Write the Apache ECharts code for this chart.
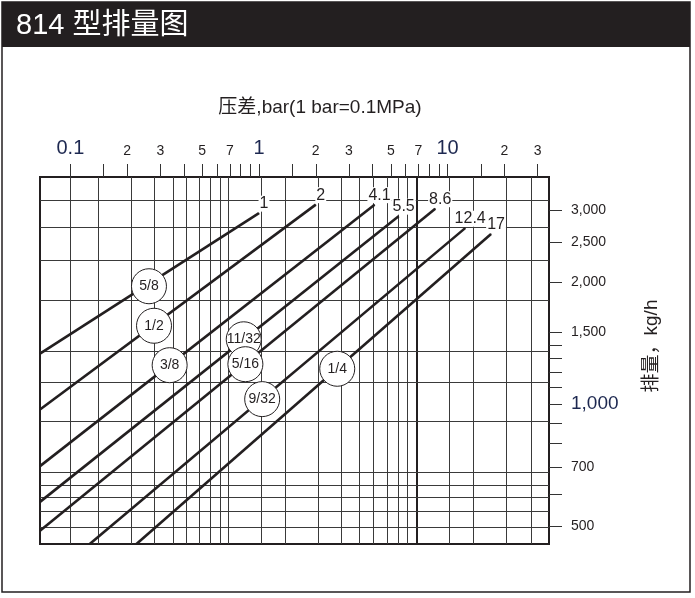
<!DOCTYPE html>
<html><head><meta charset="utf-8">
<script src="https://cdn.jsdelivr.net/npm/echarts@6/dist/echarts.min.js"></script>
<style>html,body{margin:0;padding:0;background:#fff}#c{width:695px;height:598px}</style>
</head><body><div id="c"></div>
<script>
// ---- data ----
const sizes = ['5/8', '1/2', '3/8', '11/32', '5/16', '9/32', '1/4'];
const maxPressure = ['1', '2', '4.1', '5.5', '8.6', '12.4', '17'];
const startPoints = [[0.069, 1332], [0.069, 970], [0.069, 704], [0.069, 575], [0.069, 488], [0.1266, 453], [0.224, 453]];
const endPoints = [[1, 2950], [2, 3095], [4.1, 3095], [5.5, 2900], [8.6, 3025], [12.4, 2710], [17, 2620]];
const badgePoints = [[0.261, 1950], [0.2776, 1559], [0.336, 1247], [0.83, 1444], [0.847, 1254], [1.04, 1029], [2.6, 1222]];
const xTicks = [0.1, 0.15, 0.2, 0.3, 0.4, 0.5, 0.6, 0.7, 0.8, 0.9, 1, 1.5, 2, 3, 4, 5, 6, 7, 8, 9, 10, 15, 20, 30];
const xTickLabels = [0.1, 0.2, 0.3, 0.5, 0.7, 1, 2, 3, 5, 7, 10, 20, 30];
const xTickLabelText = ['0.1', '2', '3', '5', '7', '1', '2', '3', '5', '7', '10', '2', '3'];
const yTicks = [500, 600, 700, 800, 900, 1000, 1100, 1200, 1300, 1400, 1500, 2000, 2500, 3000];
const yTickLabels = [500, 700, 1000, 1500, 2000, 2500, 3000];
const xGrid = [0.103, 0.137, 0.206, 0.2765, 0.347, 0.412, 0.481, 0.548, 0.619, 0.685, 1.03, 1.369, 2.055, 2.735, 3.42, 4.06, 4.78, 5.49, 6.11, 6.83, 10.26, 13.75, 20.5, 27.8];
const xGridBold = [6.83];
const yGrid = [3171, 2718, 2259, 1804, 1350, 1133, 907, 680, 632, 589, 544, 498];
const xRange = [0.069, 34.5];
const yRange = [453, 3620];

const SANS = "'Liberation Sans','Noto Sans CJK SC',sans-serif";
const NAVY = '#1d2850';
const INK = '#231f20';

const chart = echarts.init(document.getElementById('c'), null, {renderer: 'canvas'});

const lineSeries = sizes.map((s, i) => ({
  name: s,
  type: 'line',
  z: 3,
  symbol: 'circle',
  symbolSize: 1,
  itemStyle: {color: INK},
  lineStyle: {color: INK, width: 2.6},
  emphasis: {disabled: true},
  silent: true,
  animation: false,
  data: [
    {value: startPoints[i]},
    {value: endPoints[i], label: {
      show: true, position: 'top', distance: 1, offset: [5, 0],
      formatter: maxPressure[i], fontSize: 16, color: INK, fontFamily: SANS,
      backgroundColor: '#fff', padding: [0, 1, 0, 1]
    }}
  ]
}));

const gridSeries = {
  type: 'line', z: 1, silent: true, animation: false, symbol: 'none',
  lineStyle: {opacity: 0}, data: [[xRange[0], yRange[0]]],
  markLine: {
    z: 1, silent: true, symbol: 'none', animation: false,
    label: {show: false},
    lineStyle: {type: 'solid', color: '#3a3a3a', width: 1},
    data: xGrid.map(v => ({xAxis: v, lineStyle: {width: xGridBold.indexOf(v) >= 0 ? 2 : 1, color: xGridBold.indexOf(v) >= 0 ? INK : '#3a3a3a'}}))
      .concat(yGrid.map(v => ({yAxis: v})))
  }
};

const badgeSeries = {
  type: 'scatter', z: 5, silent: true, animation: false,
  symbol: 'circle', symbolSize: 35,
  itemStyle: {color: '#fff', borderColor: INK, borderWidth: 1, opacity: 1},
  emphasis: {disabled: true},
  label: {show: true, position: 'inside', color: INK, fontSize: 14, fontFamily: SANS,
    formatter: p => sizes[p.dataIndex]},
  data: badgePoints
};

function nearIdx(arr, v) {
  for (let i = 0; i < arr.length; i++) if (Math.abs(arr[i] - v) / arr[i] < 1e-6) return i;
  return -1;
}

chart.setOption({
  animation: false,
  backgroundColor: '#fff',
  grid: {left: 40, right: 146, top: 177, bottom: 54, show: true, borderColor: INK, borderWidth: 2, backgroundColor: 'transparent'},
  xAxis: {
    type: 'log', logBase: 10, position: 'top', min: xRange[0], max: xRange[1],
    axisLine: {show: true, onZero: false, lineStyle: {color: INK, width: 2}},
    axisTick: {show: true, inside: false, length: 13, customValues: xTicks, lineStyle: {color: '#333', width: 1}},
    axisLabel: {
      show: true, margin: 19, customValues: xTickLabels,
      formatter: v => {
        const i = nearIdx(xTickLabels, v);
        const t = i >= 0 ? xTickLabelText[i] : '';
        return (t === '0.1' || t === '1' || t === '10') ? '{b|' + t + '}' : '{s|' + t + '}';
      },
      rich: {
        b: {fontSize: 20, color: NAVY, fontFamily: SANS},
        s: {fontSize: 14, color: INK, fontFamily: SANS}
      }
    },
    splitLine: {show: false}, minorTick: {show: false}, minorSplitLine: {show: false}
  },
  yAxis: {
    type: 'log', logBase: 10, position: 'right', min: yRange[0], max: yRange[1],
    axisLine: {show: true, onZero: false, lineStyle: {color: INK, width: 2}},
    axisTick: {show: true, inside: false, length: 13, customValues: yTicks, lineStyle: {color: '#333', width: 1}},
    axisLabel: {
      show: true, margin: 22, customValues: yTickLabels, align: 'left',
      formatter: v => {
        const t = Math.round(v).toString().replace(/\B(?=(\d{3})+(?!\d))/g, ',');
        return Math.round(v) === 1000 ? '{b|' + t + '}' : '{s|' + t + '}';
      },
      rich: {
        b: {fontSize: 19, color: NAVY, fontFamily: SANS},
        s: {fontSize: 14, color: INK, fontFamily: SANS}
      }
    },
    splitLine: {show: false}, minorTick: {show: false}, minorSplitLine: {show: false}
  },
  series: [gridSeries].concat(lineSeries, [badgeSeries]),
  graphic: [
    {type: 'rect', z: 0, shape: {x: 2, y: 2, width: 688, height: 590}, style: {fill: 'none', stroke: INK, lineWidth: 1.5}},
    {type: 'rect', z: 0, shape: {x: 2, y: 2, width: 688, height: 45}, style: {fill: INK}},
    {type: 'text', z: 10, x: 16, y: 26, style: {text: '814 型排量图', fill: '#fff', fontSize: 29, fontFamily: SANS, verticalAlign: 'middle', align: 'left'}},
    {type: 'text', z: 10, x: 320, y: 108, style: {text: '压差,bar(1 bar=0.1MPa)', fill: INK, fontSize: 19, fontFamily: SANS, verticalAlign: 'middle', align: 'center'}},
    {type: 'text', z: 10, x: 652, y: 346, rotation: Math.PI / 2, style: {text: '排量，kg/h', fill: INK, fontSize: 19, fontFamily: SANS, verticalAlign: 'middle', align: 'center'}}
  ]
});
</script>
</body></html>
